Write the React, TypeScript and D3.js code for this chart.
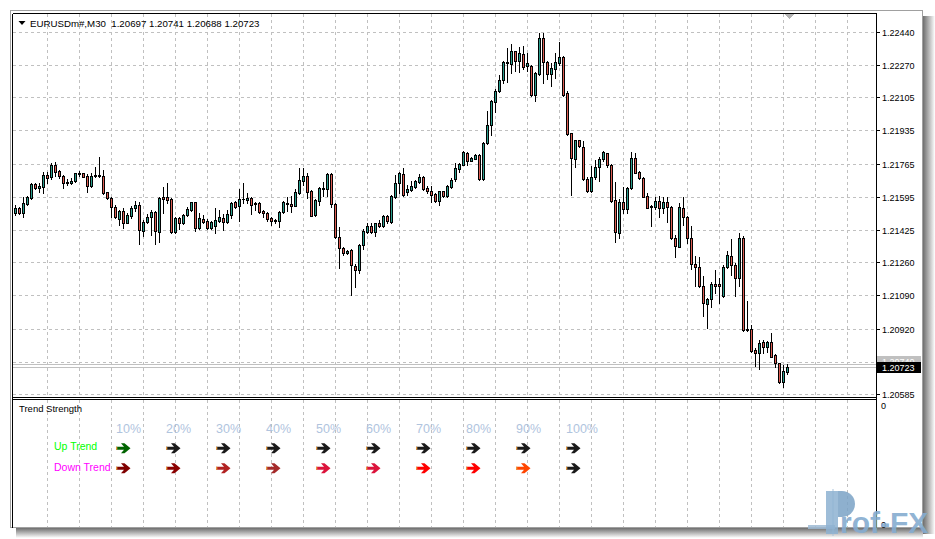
import React from 'react';
import * as d3 from 'd3';

// M30 bars, oldest first
const symbol = 'EURUSDm#,M30';
const opens = [
  1.21513, 1.21536, 1.21510, 1.21558, 1.21587, 1.21660, 1.21638, 1.21643, 1.21706, 1.21694,
  1.21757, 1.21726, 1.21701, 1.21664, 1.21667, 1.21674, 1.21713, 1.21715, 1.21701, 1.21651,
  1.21701, 1.21708, 1.21701, 1.21617, 1.21587, 1.21541, 1.21481, 1.21522, 1.21462, 1.21496,
  1.21536, 1.21551, 1.21421, 1.21464, 1.21489, 1.21518, 1.21416, 1.21592, 1.21592, 1.21583,
  1.21413, 1.21484, 1.21459, 1.21501, 1.21527, 1.21566, 1.21433, 1.21481, 1.21471, 1.21433,
  1.21446, 1.21472, 1.21484, 1.21467, 1.21501, 1.21568, 1.21549, 1.21582, 1.21578, 1.21587,
  1.21564, 1.21564, 1.21522, 1.21513, 1.21484, 1.21476, 1.21472, 1.21515, 1.21563, 1.21558,
  1.21549, 1.21615, 1.21677, 1.21701, 1.21624, 1.21500, 1.21574, 1.21633, 1.21633, 1.21711,
  1.21556, 1.21387, 1.21331, 1.21305, 1.21322, 1.21240, 1.21220, 1.21348, 1.21416, 1.21445,
  1.21416, 1.21462, 1.21445, 1.21496, 1.21467, 1.21595, 1.21664, 1.21711, 1.21619, 1.21631,
  1.21643, 1.21670, 1.21694, 1.21639, 1.21626, 1.21609, 1.21571, 1.21623, 1.21597, 1.21645,
  1.21687, 1.21738, 1.21759, 1.21820, 1.21779, 1.21789, 1.21807, 1.21687, 1.21870, 1.21960,
  1.22080, 1.22135, 1.22194, 1.22278, 1.22274, 1.22339, 1.22291, 1.22326, 1.22263, 1.22263,
  1.22114, 1.22223, 1.22407, 1.22285, 1.22223, 1.22250, 1.22278, 1.22309, 1.22126, 1.21920,
  1.21789, 1.21884, 1.21849, 1.21687, 1.21626, 1.21697, 1.21745, 1.21786, 1.21817, 1.21757,
  1.21578, 1.21411, 1.21569, 1.21530, 1.21638, 1.21792, 1.21723, 1.21689, 1.21599, 1.21547,
  1.21544, 1.21574, 1.21536, 1.21569, 1.21544, 1.21382, 1.21339, 1.21536, 1.21489, 1.21382,
  1.21250, 1.21236, 1.21138, 1.21046, 1.21070, 1.21148, 1.21146, 1.21087, 1.21233, 1.21291,
  1.21245, 1.21177, 1.21382, 1.20916, 1.20916, 1.20810, 1.20793, 1.20849, 1.20827, 1.20849,
  1.20784, 1.20742, 1.20648, 1.20697,
];
const highs = [
  1.21552, 1.21544, 1.21595, 1.21599, 1.21667, 1.21667, 1.21664, 1.21723, 1.21723, 1.21769,
  1.21773, 1.21732, 1.21706, 1.21684, 1.21689, 1.21718, 1.21728, 1.21718, 1.21711, 1.21715,
  1.21745, 1.21800, 1.21732, 1.21621, 1.21595, 1.21551, 1.21527, 1.21536, 1.21510, 1.21547,
  1.21574, 1.21569, 1.21476, 1.21506, 1.21527, 1.21523, 1.21595, 1.21646, 1.21664, 1.21587,
  1.21489, 1.21492, 1.21506, 1.21544, 1.21569, 1.21569, 1.21510, 1.21501, 1.21479, 1.21472,
  1.21536, 1.21527, 1.21506, 1.21527, 1.21569, 1.21574, 1.21633, 1.21664, 1.21615, 1.21592,
  1.21569, 1.21569, 1.21527, 1.21518, 1.21489, 1.21481, 1.21523, 1.21574, 1.21592, 1.21599,
  1.21633, 1.21740, 1.21740, 1.21718, 1.21629, 1.21582, 1.21643, 1.21672, 1.21718, 1.21718,
  1.21561, 1.21438, 1.21336, 1.21322, 1.21326, 1.21250, 1.21353, 1.21428, 1.21462, 1.21459,
  1.21462, 1.21476, 1.21501, 1.21501, 1.21604, 1.21706, 1.21723, 1.21742, 1.21656, 1.21677,
  1.21682, 1.21711, 1.21699, 1.21648, 1.21648, 1.21614, 1.21626, 1.21626, 1.21653, 1.21691,
  1.21767, 1.21767, 1.21830, 1.21824, 1.21797, 1.21813, 1.21813, 1.21875, 1.22032, 1.22091,
  1.22148, 1.22216, 1.22291, 1.22356, 1.22377, 1.22342, 1.22360, 1.22365, 1.22331, 1.22268,
  1.22233, 1.22433, 1.22433, 1.22291, 1.22279, 1.22331, 1.22387, 1.22314, 1.22135, 1.21921,
  1.21887, 1.21887, 1.21880, 1.21694, 1.21752, 1.21783, 1.21800, 1.21830, 1.21820, 1.21762,
  1.21672, 1.21582, 1.21643, 1.21646, 1.21825, 1.21820, 1.21728, 1.21694, 1.21615, 1.21552,
  1.21595, 1.21599, 1.21595, 1.21595, 1.21547, 1.21399, 1.21564, 1.21595, 1.21496, 1.21445,
  1.21291, 1.21288, 1.21189, 1.21075, 1.21160, 1.21220, 1.21177, 1.21245, 1.21318, 1.21377,
  1.21254, 1.21411, 1.21394, 1.21062, 1.20938, 1.20819, 1.20861, 1.20861, 1.20858, 1.20899,
  1.20790, 1.20745, 1.20733, 1.20741,
];
const lows = [
  1.21501, 1.21506, 1.21489, 1.21552, 1.21582, 1.21633, 1.21621, 1.21615, 1.21664, 1.21684,
  1.21701, 1.21692, 1.21641, 1.21655, 1.21658, 1.21672, 1.21702, 1.21694, 1.21621, 1.21646,
  1.21697, 1.21694, 1.21609, 1.21582, 1.21489, 1.21484, 1.21450, 1.21433, 1.21459, 1.21484,
  1.21523, 1.21351, 1.21394, 1.21459, 1.21399, 1.21351, 1.21365, 1.21513, 1.21564, 1.21411,
  1.21408, 1.21428, 1.21455, 1.21496, 1.21523, 1.21421, 1.21428, 1.21462, 1.21428, 1.21430,
  1.21411, 1.21467, 1.21424, 1.21462, 1.21487, 1.21536, 1.21472, 1.21561, 1.21564, 1.21506,
  1.21527, 1.21513, 1.21492, 1.21472, 1.21450, 1.21459, 1.21438, 1.21510, 1.21523, 1.21518,
  1.21547, 1.21609, 1.21655, 1.21587, 1.21496, 1.21496, 1.21552, 1.21599, 1.21599, 1.21541,
  1.21382, 1.21228, 1.21296, 1.21300, 1.21092, 1.21134, 1.21206, 1.21326, 1.21411, 1.21408,
  1.21394, 1.21438, 1.21438, 1.21462, 1.21462, 1.21587, 1.21615, 1.21597, 1.21605, 1.21623,
  1.21639, 1.21665, 1.21631, 1.21614, 1.21568, 1.21568, 1.21554, 1.21592, 1.21592, 1.21639,
  1.21674, 1.21721, 1.21756, 1.21759, 1.21776, 1.21786, 1.21682, 1.21682, 1.21865, 1.21912,
  1.22029, 1.22131, 1.22177, 1.22182, 1.22228, 1.22240, 1.22233, 1.22250, 1.22237, 1.22109,
  1.22086, 1.22220, 1.22177, 1.22199, 1.22160, 1.22203, 1.22268, 1.22109, 1.21912, 1.21602,
  1.21745, 1.21848, 1.21682, 1.21619, 1.21621, 1.21684, 1.21677, 1.21779, 1.21745, 1.21569,
  1.21365, 1.21382, 1.21510, 1.21513, 1.21633, 1.21715, 1.21684, 1.21592, 1.21536, 1.21445,
  1.21530, 1.21489, 1.21510, 1.21467, 1.21377, 1.21285, 1.21336, 1.21450, 1.21356, 1.21223,
  1.21138, 1.21134, 1.20984, 1.20921, 1.21029, 1.21100, 1.21052, 1.21083, 1.21228, 1.21194,
  1.21087, 1.21138, 1.20909, 1.20909, 1.20801, 1.20728, 1.20711, 1.20796, 1.20801, 1.20773,
  1.20721, 1.20640, 1.20619, 1.20688,
];
const closes = [
  1.21536, 1.21510, 1.21561, 1.21592, 1.21660, 1.21638, 1.21650, 1.21706, 1.21689, 1.21757,
  1.21723, 1.21701, 1.21664, 1.21672, 1.21677, 1.21716, 1.21715, 1.21697, 1.21651, 1.21701,
  1.21708, 1.21701, 1.21612, 1.21587, 1.21541, 1.21492, 1.21522, 1.21462, 1.21501, 1.21536,
  1.21551, 1.21424, 1.21467, 1.21492, 1.21518, 1.21421, 1.21587, 1.21585, 1.21578, 1.21413,
  1.21484, 1.21459, 1.21501, 1.21532, 1.21566, 1.21433, 1.21484, 1.21467, 1.21433, 1.21467,
  1.21476, 1.21489, 1.21467, 1.21506, 1.21564, 1.21544, 1.21582, 1.21583, 1.21587, 1.21552,
  1.21558, 1.21518, 1.21510, 1.21479, 1.21472, 1.21472, 1.21518, 1.21569, 1.21556, 1.21549,
  1.21617, 1.21680, 1.21701, 1.21621, 1.21498, 1.21578, 1.21638, 1.21638, 1.21711, 1.21556,
  1.21387, 1.21331, 1.21305, 1.21318, 1.21245, 1.21220, 1.21348, 1.21421, 1.21445, 1.21413,
  1.21459, 1.21445, 1.21496, 1.21472, 1.21599, 1.21664, 1.21715, 1.21602, 1.21634, 1.21648,
  1.21674, 1.21696, 1.21636, 1.21623, 1.21605, 1.21571, 1.21623, 1.21597, 1.21648, 1.21682,
  1.21742, 1.21762, 1.21824, 1.21776, 1.21793, 1.21807, 1.21687, 1.21870, 1.21960, 1.22083,
  1.22138, 1.22194, 1.22285, 1.22285, 1.22339, 1.22291, 1.22331, 1.22257, 1.22279, 1.22117,
  1.22228, 1.22407, 1.22283, 1.22223, 1.22254, 1.22285, 1.22309, 1.22117, 1.21916, 1.21793,
  1.21884, 1.21853, 1.21687, 1.21624, 1.21697, 1.21745, 1.21786, 1.21825, 1.21757, 1.21574,
  1.21416, 1.21569, 1.21530, 1.21638, 1.21792, 1.21718, 1.21689, 1.21595, 1.21539, 1.21541,
  1.21574, 1.21536, 1.21569, 1.21541, 1.21382, 1.21343, 1.21544, 1.21489, 1.21382, 1.21250,
  1.21233, 1.21138, 1.21049, 1.21070, 1.21148, 1.21138, 1.21138, 1.21236, 1.21296, 1.21245,
  1.21177, 1.21382, 1.20912, 1.20912, 1.20806, 1.20793, 1.20844, 1.20827, 1.20849, 1.20776,
  1.20742, 1.20648, 1.20704, 1.20723,
];

const priceTicks = ['1.22440', '1.22270', '1.22105', '1.21935', '1.21765', '1.21595',
  '1.21425', '1.21260', '1.21090', '1.20920', '1.20750', '1.20585'];
const askPrice = 1.2074;

// Trend Strength sub-window
const levels = ['10%', '20%', '30%', '40%', '50%', '60%', '70%', '80%', '90%', '100%'];
const upColors = ['#006400', '#1a1a1a', '#1a1a1a', '#1a1a1a', '#1a1a1a', '#1a1a1a', '#1a1a1a', '#1a1a1a', '#1a1a1a', '#1a1a1a'];
const downColors = ['#800000', '#8b0000', '#b22222', '#a52a2a', '#dc143c', '#dc143c', '#ff0000', '#ff0000', '#ff4500', '#1a1a1a'];

const BULL = '#2a9d8c';
const BEAR = '#dc5c52';
const GRID = '#c0c0c0';
const FONT = 'Liberation Sans, Arial, sans-serif';

const arrowPath = (x0, yc) =>
  `M${x0},${yc - 1.5}h8l-3,-3.5h3.5l6,5l-6,5h-3.5l3,-3.5h-8z`;

export default function App() {
  const W = 935;
  const H = 539;
  const left = 12.5, right = 876.5, top = 13.5;
  const mainBottom = 397.5, subTop = 399.5, subBottom = 527.5;

  const x = d3.scaleLinear().domain([0, 215.25]).range([15.5, 876.5]);
  const y = d3.scaleLinear().domain([1.20585, 1.2244]).range([394, 31.7]);
  const snap = (v) => Math.round(y(v)) + 0.5;
  const lv = d3.scaleLinear().domain([0, levels.length - 1]).range([116, 566]);
  const gridBars = d3.range(8, 216, 8);

  const last = closes.length - 1;
  const title = `${symbol}  ${[opens[last], highs[last], lows[last], closes[last]].map((v) => v.toFixed(5)).join(' ')}`;

  const candles = opens.map((o, i) => {
    const c = closes[i];
    const cx = x(i);
    const yT = Math.round(y(Math.max(o, c)));
    const yB = Math.round(y(Math.min(o, c)));
    const wick = (
      <line x1={cx} x2={cx} y1={Math.round(y(highs[i]))} y2={Math.round(y(lows[i])) + 1} stroke="#000" />
    );
    const body = yB - yT < 1
      ? <line x1={cx - 1.5} x2={cx + 1.5} y1={yT + 0.5} y2={yT + 0.5} stroke="#000" />
      : <rect x={cx - 1} y={yT + 0.5} width={2} height={yB - yT} fill={c >= o ? BULL : BEAR} stroke="#000" />;
    return <g key={i}>{wick}{body}</g>;
  });

  return (
    <svg width={W} height={H} style={{ position: 'absolute', left: 0, top: 0, display: 'block', background: '#fff' }}
      shapeRendering="crispEdges" fontFamily={FONT}>
      <defs>
        <linearGradient id="shR" x1="0" x2="1" y1="0" y2="0">
          <stop offset="0" stopColor="#6e6e6e" />
          <stop offset="1" stopColor="#ffffff" />
        </linearGradient>
        <linearGradient id="shB" x1="0" x2="0" y1="0" y2="1">
          <stop offset="0" stopColor="#6e6e6e" />
          <stop offset="1" stopColor="#ffffff" />
        </linearGradient>
        <clipPath id="plot">
          <rect x={13} y={14} width={863} height={383} />
        </clipPath>
      </defs>

      {/* window shadow */}
      <rect x={923} y={16} width={12} height={518} fill="url(#shR)" />
      <rect x={16} y={528} width={907} height={10} fill="url(#shB)" />
      <rect x={10} y={10} width={913} height={518} fill="#fff" />
      <rect x={10.5} y={10.5} width={912} height={517} fill="none" stroke="#a0a0a0" />

      {/* grid */}
      <g stroke={GRID} strokeDasharray="3,3">
        {priceTicks.map((t) => (
          <line key={t} x1={13} x2={876} y1={snap(+t)} y2={snap(+t)} />
        ))}
        {gridBars.map((b) => (
          <line key={'m' + b} x1={Math.floor(x(b)) + 0.5} x2={Math.floor(x(b)) + 0.5} y1={14} y2={397} />
        ))}
        {gridBars.map((b) => (
          <line key={'s' + b} x1={Math.floor(x(b)) + 0.5} x2={Math.floor(x(b)) + 0.5} y1={400} y2={527} />
        ))}
      </g>

      {/* ask / bid lines */}
      <line x1={13} x2={876} y1={snap(askPrice)} y2={snap(askPrice)} stroke="#c0c0c0" />
      <line x1={13} x2={876} y1={snap(closes[last])} y2={snap(closes[last])} stroke="#c0c0c0" />

      <g clipPath="url(#plot)">{candles}</g>

      {/* shift marker */}
      <polygon points="784,14 794,14 789,19" fill="#b4b4b4" />

      {/* frames */}
      <g stroke="#000" fill="none">
        <line x1={left} x2={right} y1={top} y2={top} />
        <line x1={left} x2={left} y1={top} y2={subBottom} />
        <line x1={right} x2={right} y1={top} y2={subBottom} />
        <line x1={left} x2={right} y1={mainBottom} y2={mainBottom} />
        <line x1={left} x2={right} y1={subTop} y2={subTop} />
      </g>

      {/* price axis */}
      <g fontSize="9px" fill="#000">
        {priceTicks.map((t) => (
          <g key={t}>
            <line x1={876} x2={880} y1={snap(+t)} y2={snap(+t)} stroke="#000" />
            <text x={882} y={snap(+t)} dominantBaseline="central">{t}</text>
          </g>
        ))}
      </g>
      <rect x={877} y={356} width={44} height={11} fill="#c0c0c0" />
      <text x={882} y={361.5} fontSize="9px" fill="#fff" dominantBaseline="central">{askPrice.toFixed(5)}</text>
      <rect x={877} y={362} width={44} height={11} fill="#000" />
      <text x={882} y={367.7} fontSize="9px" fill="#fff" dominantBaseline="central">{closes[last].toFixed(5)}</text>

      {/* title */}
      <polygon points="18.5,21 25.5,21 22,25" fill="#000" shapeRendering="auto" />
      <text x={30} y={27} fontSize="9.7px" fill="#000" xmlSpace="preserve" style={{ whiteSpace: 'pre' }}>{title}</text>

      {/* sub window */}
      <text x={19} y={412} fontSize="9.5px" fill="#000">Trend Strength</text>
      <text x={881} y={406} fontSize="9px" fill="#000" dominantBaseline="central">0</text>
      <text x={881} y={525} fontSize="9px" fill="#000" dominantBaseline="central">0</text>
      <g shapeRendering="auto">
        {levels.map((l, k) => (
          <text key={l} x={lv(k)} y={433} fontSize="12.5px" fill="#b0c4de">{l}</text>
        ))}
        <text x={54} y={450} fontSize="10.5px" fill="#00ff00">Up Trend</text>
        <text x={54} y={471} fontSize="10.5px" fill="#ff00ff">Down Trend</text>
        {levels.map((l, k) => (
          <g key={'a' + l}>
            <path d={arrowPath(lv(k), 448.3)} fill={upColors[k]} />
            <rect x={lv(k)} y={446.8} width={1.3} height={3} fill="#e89a3c" />
            <path d={arrowPath(lv(k), 468.3)} fill={downColors[k]} />
            <rect x={lv(k)} y={466.8} width={1.3} height={3} fill="#e89a3c" />
          </g>
        ))}
      </g>

      {/* watermark */}
      <g shapeRendering="auto">
        <line x1={833} x2={833} y1={489} y2={536} stroke="#a9c3da" strokeWidth={1} />
        <rect x={808} y={525} width={27} height={4} fill="#9dbad4" opacity={0.85} />
        <rect x={826} y={491} width={12} height={43} fill="#8db1d1" opacity={0.85} />
        <path d="M838,491h4a13,13 0 0 1 0,26h-4z" fill="#7aa2c6" opacity={0.85} />
        <text x={840} y={533} fontSize="30px" fontWeight="bold" fill="#86acd0" opacity={0.9}>rof-FX</text>
      </g>
    </svg>
  );
}
